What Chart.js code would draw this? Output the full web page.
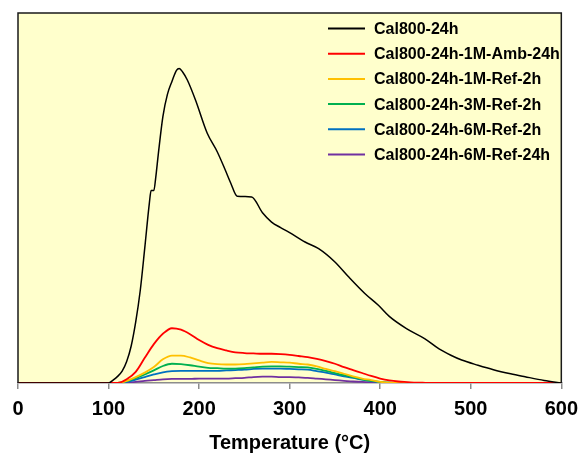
<!DOCTYPE html>
<html>
<head>
<meta charset="utf-8">
<script src="https://cdn.jsdelivr.net/npm/chart.js@4/dist/chart.umd.min.js"></script>
<style>
  html, body { margin: 0; padding: 0; background: #fff; }
  #wrap { width: 586px; height: 459px; }
</style>
</head>
<body>
<div id="wrap"><canvas id="tpd"></canvas></div>
<script>
// Data (temperature in °C, signal in arbitrary units 0-100)
const black_temps = [0, 100, 105, 110, 115, 120, 125, 130, 135, 140, 145, 147, 150, 152, 155, 160, 165, 170, 175, 178, 182, 187, 196, 209, 220, 229, 235, 242, 258, 270, 280, 290, 299, 317, 332, 350, 365, 383, 398, 410, 429, 449, 465, 478, 490, 508, 525, 544, 560, 581, 600];
const black_vals  = [0, 0, 0.8, 1.8, 3.2, 5.8, 10, 16.5, 25, 36.5, 48.5, 52, 52, 55.3, 62, 72, 78, 81.5, 84.5, 85, 84, 81.9, 76.5, 67.5, 62.5, 57.5, 54, 50.5, 50.3, 46, 43.5, 42, 40.8, 38.1, 36.3, 32.7, 28.7, 24.2, 21, 18, 14.7, 12, 9.2, 7.5, 6.2, 4.8, 3.6, 2.5, 1.7, 0.7, 0];

const temps = [0, 100, 110, 120, 130, 140, 150, 160, 170, 180, 190, 200, 210, 220, 230, 240, 250, 260, 270, 280, 290, 300, 310, 320, 330, 340, 350, 360, 370, 380, 390, 400, 410, 420, 430, 440, 450, 460, 500, 600];
const red_vals    = [0, 0, 0, 1.0, 3.0, 6.8, 10.5, 13.3, 14.8, 14.4, 13.2, 11.6, 10.3, 9.4, 8.8, 8.3, 8.1, 8.0, 7.9, 7.9, 7.8, 7.6, 7.3, 7.0, 6.5, 5.9, 5.2, 4.3, 3.5, 2.7, 1.9, 1.2, 0.7, 0.4, 0.25, 0.1, 0.05, 0, 0, 0];
const yellow_vals = [0, 0, 0, 0.6, 1.6, 2.8, 4.3, 6.4, 7.4, 7.4, 6.9, 6.1, 5.4, 5.1, 5.0, 5.0, 5.1, 5.3, 5.5, 5.7, 5.6, 5.5, 5.2, 5.0, 4.5, 3.8, 3.2, 2.5, 1.8, 1.2, 0.8, 0.3, 0.1, 0, 0, 0, 0, 0, 0, 0];
const green_vals  = [0, 0, 0, 0.5, 1.3, 2.3, 3.4, 4.6, 5.2, 5.1, 4.8, 4.4, 4.1, 4.0, 3.9, 3.9, 4.0, 4.2, 4.4, 4.5, 4.5, 4.4, 4.3, 4.2, 3.8, 3.3, 2.7, 2.1, 1.6, 1.0, 0.6, 0.3, 0.1, 0, 0, 0, 0, 0, 0, 0];
const blue_vals   = [0, 0, 0, 0.3, 0.9, 1.6, 2.3, 2.9, 3.2, 3.3, 3.3, 3.3, 3.3, 3.3, 3.4, 3.5, 3.6, 3.8, 3.9, 3.9, 3.9, 3.8, 3.7, 3.6, 3.2, 2.8, 2.3, 1.8, 1.4, 0.9, 0.5, 0.2, 0.1, 0, 0, 0, 0, 0, 0, 0];
const purple_vals = [0, 0, 0, 0.1, 0.3, 0.6, 0.8, 1.0, 1.1, 1.1, 1.1, 1.2, 1.2, 1.2, 1.2, 1.3, 1.4, 1.6, 1.7, 1.7, 1.6, 1.6, 1.5, 1.4, 1.2, 1.0, 0.8, 0.6, 0.4, 0.3, 0.15, 0.05, 0, 0, 0, 0, 0, 0, 0, 0];

const series_names = ['Cal800-24h', 'Cal800-24h-1M-Amb-24h', 'Cal800-24h-1M-Ref-2h', 'Cal800-24h-3M-Ref-2h', 'Cal800-24h-6M-Ref-2h', 'Cal800-24h-6M-Ref-24h'];
const series_colors = ['#000000', '#ff0000', '#ffc000', '#00b050', '#0070c0', '#7030a0'];
const x_ticks = [0, 100, 200, 300, 400, 500, 600];

const font_family = "'Liberation Sans', Arial, sans-serif";

function toPoints(xs, ys) {
    return xs.map((x, i) => ({x: x, y: ys[i]}));
}

const color_vals = [red_vals, yellow_vals, green_vals, blue_vals, purple_vals];

let datasets = [{
    label: series_names[0],
    data: toPoints(black_temps, black_vals),
    borderColor: series_colors[0],
    borderWidth: 1.5,
    pointRadius: 0,
    cubicInterpolationMode: 'monotone'
}];
color_vals.forEach((vals, i) => {
    datasets.push({
        label: series_names[i + 1],
        data: toPoints(temps, vals),
        borderColor: series_colors[i + 1],
        borderWidth: 1.8,
        pointRadius: 0,
        cubicInterpolationMode: 'monotone'
    });
});

// yellow plot background + frame + legend drawn inside the chart area
const framePlugin = {
    id: 'frame',
    beforeDraw(chart) {
        const {ctx, chartArea: a} = chart;
        ctx.save();
        ctx.fillStyle = '#ffffcc';
        ctx.fillRect(a.left, a.top, a.right - a.left, a.bottom - a.top);
        ctx.restore();
    },
    afterDraw(chart) {
        const {ctx, chartArea: a} = chart;
        ctx.save();
        ctx.strokeStyle = '#1a1a1a';
        ctx.lineWidth = 1.5;
        ctx.beginPath();
        ctx.moveTo(a.left, a.bottom);
        ctx.lineTo(a.left, a.top);
        ctx.lineTo(a.right, a.top);
        ctx.lineTo(a.right, a.bottom);
        ctx.stroke();

        // legend
        ctx.font = 'bold 16px ' + font_family;
        ctx.textBaseline = 'middle';
        ctx.fillStyle = '#000';
        chart.data.datasets.forEach((ds, i) => {
            const y = 28.5 + i * 25.2;
            ctx.strokeStyle = ds.borderColor;
            ctx.lineWidth = 2;
            ctx.beginPath();
            ctx.moveTo(328, y);
            ctx.lineTo(365, y);
            ctx.stroke();
            ctx.fillText(ds.label, 374, y + 1);
        });
        ctx.restore();
    }
};

new Chart(document.getElementById('tpd'), {
    type: 'line',
    data: { datasets: datasets },
    options: {
        responsive: true,
        maintainAspectRatio: false,
        animation: false,
        layout: { padding: { left: 18, right: 22, top: 13, bottom: 0 } },
        plugins: {
            legend: { display: false },
            tooltip: { enabled: false }
        },
        scales: {
            x: {
                type: 'linear',
                min: 0,
                max: 600,
                afterBuildTicks(scale) {
                    scale.ticks = x_ticks.map(v => ({value: v}));
                },
                afterFit(scale) { scale.height = 76; },
                border: { color: '#8c8c8c', width: 1.5 },
                grid: { drawOnChartArea: false, drawTicks: true, tickLength: 6, color: '#8c8c8c', lineWidth: 1.5 },
                ticks: {
                    color: '#000',
                    padding: 8,
                    maxRotation: 0,
                    font: { family: font_family, size: 20, weight: 'bold' }
                },
                title: {
                    display: true,
                    text: 'Temperature (°C)',
                    color: '#000',
                    padding: { top: 0, bottom: 4 },
                    font: { family: font_family, size: 20, weight: 'bold' }
                }
            },
            y: {
                display: false,
                min: 0,
                max: 100
            }
        }
    },
    plugins: [framePlugin]
});
</script>
</body>
</html>
